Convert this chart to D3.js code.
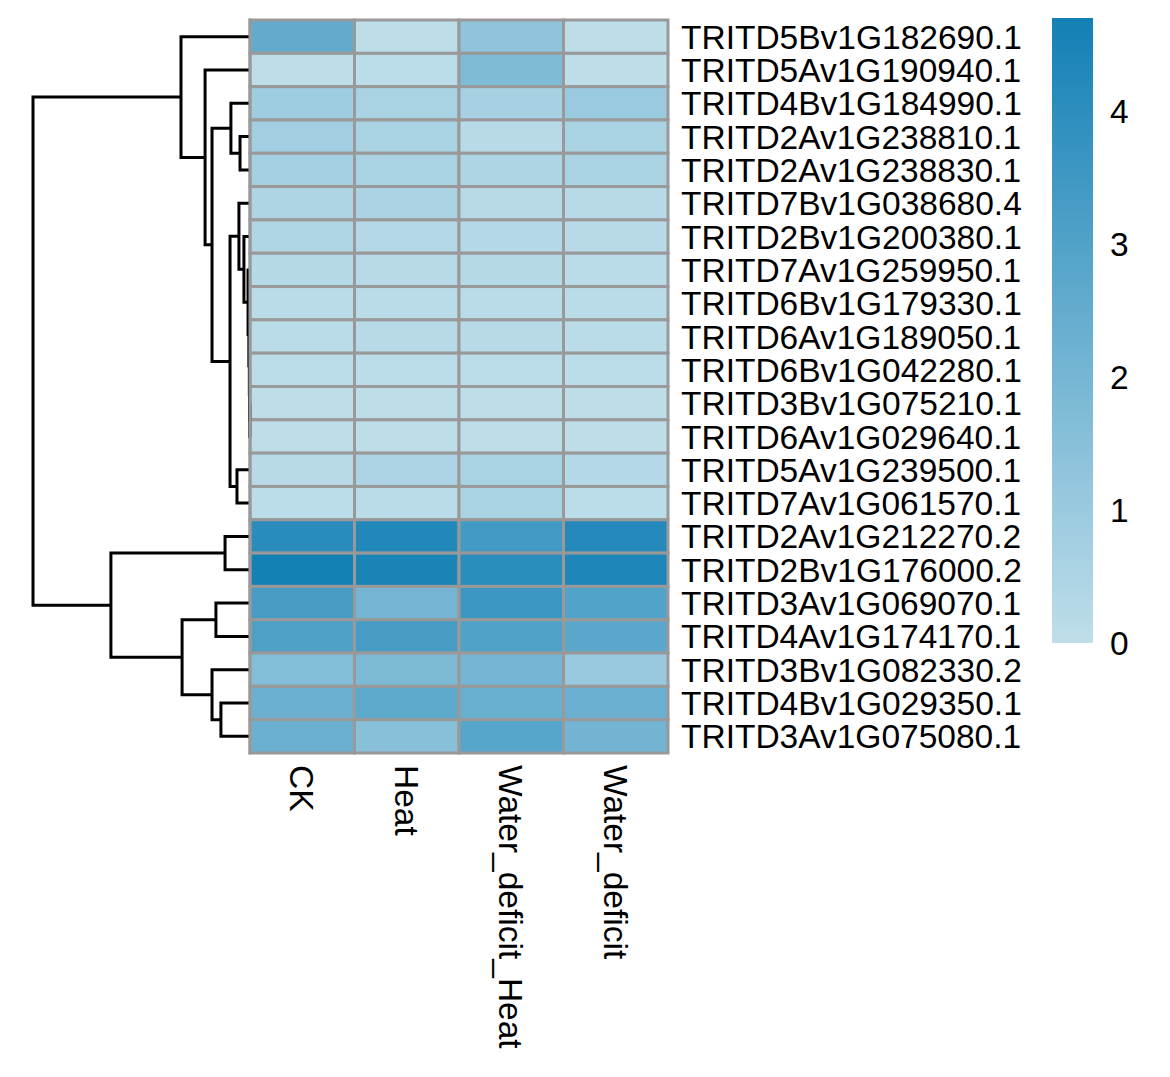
<!DOCTYPE html>
<meta charset="utf-8">
<script src="https://d3js.org/d3.v7.min.js"></script>
<style>
  body { margin: 0; background: #fff; }
  text { font-family: "Liberation Sans", Arial, sans-serif; }
</style>
<svg width="1170" height="1077"></svg>

<script>
// rows in display order (after clustering)
var rowLabels = ["TRITD5Bv1G182690.1", "TRITD5Av1G190940.1", "TRITD4Bv1G184990.1", "TRITD2Av1G238810.1",
  "TRITD2Av1G238830.1", "TRITD7Bv1G038680.4", "TRITD2Bv1G200380.1", "TRITD7Av1G259950.1",
  "TRITD6Bv1G179330.1", "TRITD6Av1G189050.1", "TRITD6Bv1G042280.1", "TRITD3Bv1G075210.1",
  "TRITD6Av1G029640.1", "TRITD5Av1G239500.1", "TRITD7Av1G061570.1", "TRITD2Av1G212270.2",
  "TRITD2Bv1G176000.2", "TRITD3Av1G069070.1", "TRITD4Av1G174170.1", "TRITD3Bv1G082330.2",
  "TRITD4Bv1G029350.1", "TRITD3Av1G075080.1"];
var colLabels = ["CK", "Heat", "Water_deficit_Heat", "Water_deficit"];

// values per column, same order as rowLabels
var ck   = [2.55, 0.05, 0.90, 0.80, 0.70, 0.45, 0.40, 0.25, 0.15, 0.15, 0.10, 0.05, 0.05, 0.20, 0.10, 4.10, 4.67, 3.30, 3.10, 1.65, 2.30, 2.30];
var heat = [0.05, 0.10, 0.60, 0.60, 0.60, 0.55, 0.30, 0.20, 0.15, 0.20, 0.10, 0.05, 0.05, 0.50, 0.15, 4.30, 4.48, 2.03, 3.30, 1.80, 2.67, 1.50];
var wdh  = [1.32, 1.76, 0.65, 0.20, 0.45, 0.20, 0.30, 0.25, 0.15, 0.20, 0.10, 0.05, 0.05, 0.60, 0.60, 3.40, 4.07, 3.57, 3.00, 2.06, 2.36, 2.86];
var wd   = [0.05, 0.05, 1.00, 0.60, 0.60, 0.20, 0.20, 0.15, 0.15, 0.15, 0.10, 0.05, 0.05, 0.30, 0.10, 4.20, 4.40, 2.97, 2.75, 1.05, 2.30, 2.10];

// row dendrogram, hclust style: negative = leaf (1-based row), positive = earlier merge
var mergeA = [-12, -11, -10, -9, -8, -7, -6, -14, 7, -4, -3, 11, -2, -1, -16, -18, -21, -20, 16, 15, 14];
var mergeB = [-13,   1,   2,  3,  4,  5,  6, -15, 8, -5, 10,  9, 12, 13, -17, -19, -22,  17, 18, 19, 20];
var mergeH = [0.01, 0.02, 0.03, 0.05, 0.09, 0.28, 0.51, 0.60, 0.92, 0.46, 0.88, 1.75, 2.07, 3.18, 1.15, 1.57, 1.34, 1.75, 3.13, 6.41, 10.0];

var legendTicks = [0, 1, 2, 3, 4];
var legendMax = 4.7;

var svg = d3.select("svg");

var x = d3.scaleBand().domain(colLabels).range([250, 668]);
var y = d3.scaleBand().domain(rowLabels).range([20, 753]);
var color = d3.scaleLinear().domain([0, legendMax]).range(["#bfdeea", "#1380b5"]).clamp(true);

var cols = [ck, heat, wdh, wd];
var cells = [];
rowLabels.forEach(function (r, i) {
  colLabels.forEach(function (c, j) {
    cells.push({ row: r, col: c, value: cols[j][i] });
  });
});

svg.append("g").selectAll("rect")
  .data(cells)
  .enter().append("rect")
  .attr("x", function (d) { return x(d.col); })
  .attr("y", function (d) { return y(d.row); })
  .attr("width", x.bandwidth())
  .attr("height", y.bandwidth())
  .attr("fill", function (d) { return color(d.value); })
  .attr("stroke", "#999999")
  .attr("stroke-width", 3);

// row labels
svg.append("g").selectAll("text")
  .data(rowLabels)
  .enter().append("text")
  .attr("x", 681)
  .attr("y", function (d) { return y(d) + y.bandwidth() / 2; })
  .attr("dy", "0.36em")
  .attr("font-size", 33.5)
  .text(function (d) { return d; });

// column labels, rotated
svg.append("g").selectAll("text")
  .data(colLabels)
  .enter().append("text")
  .attr("transform", function (d) { return "translate(" + (x(d) + x.bandwidth() / 2) + ",765) rotate(90)"; })
  .attr("dy", "0.36em")
  .attr("font-size", 33.5)
  .text(function (d) { return d; });

// dendrogram
var hx = d3.scaleLinear().domain([0, 10]).range([250, 33]);
var nodes = [];
function pos(k) {
  if (k < 0) return { x: hx(0), y: y(rowLabels[-k - 1]) + y.bandwidth() / 2 };
  return nodes[k - 1];
}
var links = [];
mergeH.forEach(function (h, i) {
  var a = pos(mergeA[i]), b = pos(mergeB[i]);
  var n = { x: hx(h), y: (a.y + b.y) / 2 };
  nodes.push(n);
  links.push("M" + a.x + "," + a.y + "H" + n.x + "V" + b.y + "H" + b.x);
});

svg.append("g").selectAll("path")
  .data(links)
  .enter().append("path")
  .attr("d", function (d) { return d; })
  .attr("fill", "none")
  .attr("stroke", "#000")
  .attr("stroke-width", 3);

// redraw grid border over dendrogram tips
svg.append("rect")
  .attr("x", 248.5).attr("y", 18.5)
  .attr("width", 3).attr("height", 736)
  .attr("fill", "#999999");

// legend
var ly = d3.scaleLinear().domain([0, legendMax]).range([643, 18]);
var defs = svg.append("defs");
var grad = defs.append("linearGradient")
  .attr("id", "lg").attr("x1", 0).attr("y1", 1).attr("x2", 0).attr("y2", 0);
grad.selectAll("stop")
  .data([0, legendMax / 2, legendMax])
  .enter().append("stop")
  .attr("offset", function (d) { return d / legendMax; })
  .attr("stop-color", function (d) { return color(d); });

svg.append("rect")
  .attr("x", 1052)
  .attr("y", ly(legendMax))
  .attr("width", 41)
  .attr("height", ly(0) - ly(legendMax))
  .attr("fill", "url(#lg)");

svg.append("g").selectAll("text")
  .data(legendTicks)
  .enter().append("text")
  .attr("x", 1110)
  .attr("y", function (d) { return ly(d); })
  .attr("dy", "0.36em")
  .attr("font-size", 33.5)
  .text(function (d) { return d; });
</script>
